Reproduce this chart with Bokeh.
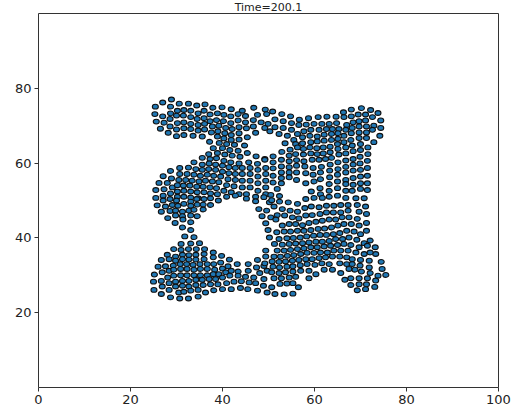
from bokeh.plotting import figure
from bokeh.embed import file_html
from bokeh.resources import INLINE
from bokeh.models import FixedTicker, ColumnDataSource

title_text = "Time=200.1"
x_ticks = [0, 20, 40, 60, 80, 100]
y_ticks = [20, 40, 60, 80]

points = [
 # upper band, left
 28.9,77.0, 27.0,76.2, 25.4,75.1, 28.7,75.1, 30.6,75.9, 32.6,75.9, 34.4,75.4, 36.2,75.7, 37.9,74.8, 39.9,74.9, 41.9,74.4, 44.3,74.0, 46.8,74.8, 49.3,74.3,
 25.3,73.1, 27.0,72.5, 28.7,73.3, 30.2,74.0, 31.6,74.2, 33.1,74.0, 34.7,73.3, 36.0,74.0, 37.3,73.0, 38.9,73.3, 40.3,72.9, 41.8,72.5, 43.4,73.1, 45.0,72.6, 47.6,72.9, 49.6,73.1,
 25.6,71.1, 27.3,70.8, 28.6,71.8, 30.0,72.7, 31.5,72.7, 33.1,72.3, 34.5,71.8, 36.0,72.0, 37.3,71.2, 38.7,71.5, 40.2,71.2, 41.8,70.7, 43.4,71.4, 45.0,70.9, 46.7,71.5, 48.4,70.9,
 26.5,69.2, 28.6,69.8, 30.2,70.7, 31.6,70.9, 33.1,70.5, 34.7,70.2, 36.1,70.5, 37.8,69.8, 39.2,70.0, 40.7,69.4, 42.1,69.1, 43.6,69.6, 45.2,69.3, 46.7,69.8, 49.2,69.4,
 28.2,68.1, 30.0,69.0, 31.6,69.3, 33.1,69.1, 34.7,68.7, 36.1,69.0, 37.6,68.2, 39.0,68.5, 40.5,68.0, 41.9,67.5, 43.6,68.0, 47.2,68.1,
 30.0,67.2, 31.6,67.5, 33.6,67.3, 35.6,67.1, 38.9,67.1, 40.3,66.6, 41.9,66.2, 43.6,66.3, 45.4,66.9,
 37.2,65.7, 39.3,65.4, 40.9,65.1, 42.6,64.9, 44.8,64.7,
 38.0,64.0, 40.0,64.0, 41.6,63.5, 43.4,63.3, 45.4,62.7, 47.3,61.8, 49.2,61.1,
 38.9,62.7, 40.5,62.3, 42.1,62.0, 43.8,61.7, 45.7,60.2, 47.6,59.8, 49.4,58.7, 37.0,62.4,
 35.6,61.4, 37.3,61.1, 38.7,61.3, 40.3,60.6, 41.8,60.2, 43.6,59.9, 33.8,60.2, 35.6,59.6, 37.1,59.9, 38.5,59.6, 40.0,59.3, 41.4,58.9, 42.8,58.7, 44.3,58.7, 46.0,58.7, 47.7,58.2, 49.4,57.1,
 30.7,58.7, 32.6,58.8, 34.2,58.4, 35.6,58.2, 37.0,58.4, 38.5,58.2, 40.0,57.7, 41.4,57.3, 42.8,57.1, 44.3,57.1, 46.0,57.1, 47.7,56.4, 49.4,55.3,
 27.1,56.5, 28.7,57.9, 30.7,57.1, 32.3,57.1, 33.8,56.9, 35.2,56.6, 36.7,56.9, 38.1,56.6, 39.6,56.4, 41.2,55.7, 42.8,55.5, 44.3,55.3, 46.0,55.3, 47.7,54.6, 49.4,53.5,
 26.2,54.7, 28.0,54.7, 28.9,55.9, 30.5,55.5, 32.0,55.5, 33.4,55.3, 34.9,55.1, 36.3,55.3, 37.8,55.1, 39.2,54.9, 40.9,54.1, 42.5,53.8, 44.3,53.5, 46.0,53.5, 47.7,52.6, 49.4,51.7,
 25.5,52.8, 27.3,53.0, 29.1,53.5, 30.2,54.1, 31.5,54.0, 32.9,54.0, 34.4,53.7, 35.8,53.7, 37.3,53.5, 38.7,53.3, 40.3,52.6, 41.9,52.2, 43.6,51.7, 45.2,51.7, 47.2,51.0,
 25.5,50.7, 27.1,51.3, 28.7,51.9, 30.2,52.4, 31.6,52.6, 33.1,52.4, 34.5,52.2, 36.0,52.2, 37.4,51.9, 38.9,51.7, 40.9,51.0, 42.8,51.3, 30.2,51.0, 31.6,51.0, 33.1,50.8, 34.7,50.6, 28.6,50.4,
 # lower-left lobe
 27.1,50.0, 30.0,50.0, 33.1,49.7, 34.4,50.4, 36.0,50.4, 37.4,50.6, 39.1,50.0, 45.2,50.5, 47.2,49.8, 49.0,50.9, 50.2,49.5,
 25.8,48.7, 27.6,48.4, 29.1,48.8, 30.3,48.6, 31.6,49.1, 33.1,48.6, 34.5,48.9, 35.8,48.9, 37.4,48.8,
 26.7,47.0, 28.6,47.2, 29.8,47.3, 31.3,47.0, 32.7,47.3, 33.8,47.5, 35.8,47.6,
 28.1,45.3, 29.8,46.0, 31.3,45.8, 33.1,46.0, 34.5,45.8, 29.7,44.0, 31.4,44.9, 33.1,44.2, 31.3,42.8, 33.1,42.1, 31.8,40.4, 33.8,40.2,
 47.9,47.7, 48.6,45.8, 49.4,43.9, 49.9,42.1, 50.2,40.1,
 31.0,38.4, 33.1,38.5, 35.0,38.6, 29.4,37.0, 31.0,36.8, 32.6,37.0, 34.3,37.0, 36.1,37.0,
 28.0,35.5, 29.8,35.0, 31.3,35.5, 32.7,35.4, 34.2,35.5, 36.0,35.7, 38.0,36.1,
 26.7,34.1, 28.4,34.3, 29.8,33.9, 31.3,34.3, 32.7,34.2, 34.2,34.2, 36.0,34.3, 38.0,34.8, 39.8,35.2,
 26.0,32.3, 27.6,32.4, 29.3,32.6, 30.8,33.0, 32.2,33.0, 33.6,32.8, 35.1,33.0, 36.7,33.0, 38.1,33.0, 39.6,33.4, 41.5,34.2,
 25.2,30.2, 26.9,30.8, 28.4,31.2, 29.4,31.5, 30.9,31.7, 32.3,31.7, 33.8,31.5, 35.2,31.7, 36.7,31.7, 38.3,31.5, 40.0,31.8, 41.2,32.4, 43.2,33.0, 45.6,33.0, 47.6,34.1, 49.4,36.6,
 25.0,28.3, 26.7,28.5, 28.1,29.4, 29.4,29.9, 30.9,30.0, 32.3,30.0, 33.8,30.0, 35.2,30.0, 36.7,30.0, 38.0,30.3, 39.2,30.3, 40.7,30.8, 41.9,31.2, 43.4,31.0, 45.6,31.2, 47.4,32.1, 49.0,32.5,
 25.1,26.1, 26.9,27.0, 28.4,27.9, 29.8,28.3, 31.3,28.5, 32.7,28.5, 34.2,28.8, 35.6,28.8, 37.1,29.0, 38.5,29.0, 40.0,29.4, 41.6,29.9, 43.4,29.9, 45.0,29.6, 46.8,29.4, 48.1,30.6, 49.7,31.2,
 26.7,25.0, 28.4,26.1, 29.8,27.0, 31.3,27.2, 32.7,27.0, 34.2,27.4, 35.8,27.4, 37.4,27.6, 39.0,27.6, 40.9,27.9, 42.5,28.3, 44.1,28.4, 45.8,28.1, 47.2,27.9, 49.0,29.0,
 28.7,24.1, 30.5,25.4, 31.6,25.6, 33.1,25.9, 34.7,26.1, 36.3,25.4, 38.1,26.0, 40.0,26.3, 41.9,26.3, 43.9,26.6, 45.5,26.3, 47.6,25.9, 49.7,25.4,
 30.7,23.8, 32.6,23.8, 34.7,24.3,
 # upper band, right
 50.9,73.8, 52.9,73.1, 54.8,72.5, 56.7,71.6, 58.7,72.0, 60.8,72.3, 62.7,72.4, 64.7,72.4, 66.3,73.6, 68.0,74.3, 70.2,74.7, 72.2,74.2, 73.8,73.4,
 51.4,71.7, 53.2,71.2, 55.0,70.7, 56.6,70.2, 58.2,70.3, 59.9,70.5, 61.6,70.5, 63.2,70.5, 64.8,70.7, 66.4,72.3, 68.0,72.5, 69.5,73.0, 71.1,73.0, 72.6,72.3, 74.4,71.4,
 49.9,70.5, 51.4,69.6, 53.2,69.4, 55.0,68.9, 57.7,68.5, 56.3,67.8, 59.2,68.9, 61.0,68.9, 62.6,69.1, 63.9,69.1, 65.3,69.1, 67.0,70.2, 68.4,70.9, 69.7,71.2, 71.1,71.4, 72.9,70.0, 74.4,69.4,
 50.3,68.5, 52.3,67.8, 54.1,67.3, 57.4,66.9, 55.5,66.2, 59.0,67.3, 60.6,67.1, 62.1,67.6, 63.7,67.8, 65.1,68.0, 66.8,68.9, 68.2,69.4, 69.7,69.8, 71.3,69.8, 72.6,68.9, 74.2,67.3,
 53.6,65.3, 57.4,65.3, 59.2,65.6, 60.6,65.8, 62.1,66.0, 63.7,66.2, 65.1,66.5, 66.4,67.3, 68.0,68.0, 69.7,68.2, 71.3,68.2, 72.9,65.6,
 54.7,63.6, 57.6,63.8, 55.9,65.1, 59.0,64.2, 60.5,64.0, 61.9,64.2, 63.4,64.4, 65.0,65.1, 66.4,65.6, 67.9,66.2, 69.7,66.7, 71.3,66.7, 56.3,64.2,
 52.9,63.0, 55.9,62.4, 57.6,62.3, 59.2,62.6, 60.6,62.4, 61.9,62.6, 63.4,62.9, 65.1,63.8, 66.8,64.2, 68.2,64.7, 70.0,65.1, 71.6,64.2, 54.5,62.0,
 51.0,61.8, 52.8,60.9, 54.5,60.5, 56.1,60.8, 57.7,60.5, 59.5,60.9, 61.0,60.9, 62.4,61.1, 63.7,61.4, 65.3,62.3, 66.8,62.6, 68.4,63.2, 70.0,63.5, 71.6,62.4,
 49.2,60.9, 51.0,60.2, 52.8,59.1, 54.5,58.9, 56.1,59.3, 57.9,59.1, 59.7,58.7, 61.5,59.0, 63.4,59.6, 65.1,60.2, 66.8,60.7, 68.4,61.1, 69.9,61.7, 71.5,60.6,
 51.0,58.6, 52.8,57.5, 54.5,57.5, 56.1,57.5, 58.1,57.3, 59.7,56.9, 61.3,57.5, 63.3,58.0, 65.1,58.4, 66.8,59.0, 68.4,59.6, 69.9,59.9, 71.5,58.7,
 51.0,56.6, 52.8,56.0, 54.5,56.2, 56.1,55.5, 58.1,54.6, 59.9,55.1, 61.3,55.7, 63.3,56.2, 65.0,56.9, 66.8,57.5, 68.4,58.0, 70.0,58.2, 71.5,56.6,
 51.0,54.8, 52.8,54.6, 59.3,52.4, 61.2,53.3, 63.2,54.4, 65.0,55.1, 66.8,55.5, 68.4,56.0, 70.0,56.4, 71.5,54.6,
 51.9,53.1, 61.3,51.7, 63.2,52.6, 65.0,53.3, 66.8,54.4, 68.4,54.2, 70.0,54.6, 71.5,52.8,
 50.5,51.5, 52.4,51.2, 58.1,50.4, 59.9,50.7, 61.7,50.7, 63.2,51.0, 65.0,51.3, 66.8,52.6, 68.2,52.6, 70.0,53.1, 66.8,50.7, 69.0,50.6, 70.8,50.6,
 # lower right
 50.7,50.1, 52.4,49.7, 54.3,49.5, 56.3,49.1, 49.6,47.3, 51.2,48.4, 53.0,47.7, 54.7,47.3, 56.3,47.0, 57.9,48.0, 59.3,48.4, 61.0,48.2, 62.6,48.6, 64.2,48.6, 65.7,48.8, 67.3,48.8, 69.3,48.8, 71.1,48.4,
 50.5,45.5, 51.9,46.1, 53.5,46.0, 55.2,45.5, 56.6,45.2, 58.1,46.0, 59.5,46.1, 61.2,46.4, 62.6,46.8, 64.1,46.8, 65.7,46.8, 67.3,47.3, 69.7,47.0, 71.3,46.4,
 51.6,44.9, 53.0,43.3, 54.5,43.7, 55.9,43.7, 57.4,43.4, 58.8,44.0, 60.3,44.3, 61.7,44.6, 63.2,44.9, 64.6,44.9, 66.0,45.5, 67.5,45.5, 69.3,45.1, 71.3,44.0,
 51.8,41.5, 53.4,41.7, 54.8,41.7, 56.3,41.9, 57.7,41.9, 59.2,42.1, 60.8,42.4, 62.2,42.5, 63.7,42.8, 65.1,43.3, 66.4,43.7, 68.0,43.7, 69.7,43.3, 71.3,41.9,
 52.3,39.7, 54.0,39.9, 55.4,40.0, 56.9,40.1, 58.3,40.4, 59.8,40.6, 61.2,40.8, 62.6,40.8, 64.1,41.0, 65.5,41.3, 67.0,41.9, 68.6,41.7, 70.0,41.0, 72.1,39.3,
 51.3,38.4, 53.0,38.2, 54.5,38.4, 55.9,38.5, 57.4,38.6, 58.8,38.8, 60.3,39.0, 61.7,39.0, 63.2,39.2, 64.6,39.7, 66.1,39.7, 67.5,40.1, 69.2,39.5, 70.8,38.6, 73.2,37.5,
 51.9,36.6, 53.4,36.6, 54.8,36.8, 56.3,37.0, 57.7,37.2, 59.2,37.5, 60.6,37.5, 62.1,37.7, 63.5,37.9, 65.0,38.1, 66.4,38.4, 67.9,38.1, 69.7,37.5, 71.5,37.9, 73.3,35.7,
 49.4,35.0, 51.2,35.0, 52.6,35.0, 54.1,35.2, 55.5,35.4, 57.0,35.7, 58.4,36.0, 59.9,36.0, 61.3,36.1, 62.8,36.1, 64.2,36.6, 65.7,36.6, 67.3,36.6, 69.0,36.1, 70.8,35.7, 72.1,36.1, 74.5,33.6,
 49.2,33.2, 50.8,33.7, 52.3,33.6, 53.7,33.7, 55.2,33.9, 56.6,34.1, 58.1,34.3, 59.5,34.3, 61.0,34.6, 62.4,34.8, 63.9,35.0, 65.5,35.0, 67.0,34.8, 68.2,34.3, 70.0,34.1, 71.9,33.9, 74.7,31.7,
 51.0,32.3, 52.4,32.1, 54.0,32.3, 55.3,32.4, 56.9,32.7, 58.4,33.0, 60.1,32.8, 61.6,33.2, 63.2,33.0, 65.5,33.2, 67.0,33.0, 68.2,33.0, 69.9,32.6, 71.9,32.1, 73.8,29.9,
 50.7,30.8, 52.3,30.6, 53.7,30.8, 55.3,31.0, 57.0,31.2, 58.8,31.2, 62.1,31.5, 63.9,31.5, 65.7,30.6, 67.5,31.7, 68.8,31.5, 70.2,31.0, 72.1,30.6, 75.5,30.1,
 51.2,29.2, 52.8,29.2, 54.5,29.4, 55.9,29.6, 58.8,29.2, 60.3,30.3, 67.9,29.2, 69.7,29.2, 71.5,29.2, 73.3,28.6,
 48.9,27.2, 50.7,26.8, 52.5,27.7, 54.0,27.8, 55.3,27.9, 56.5,26.8, 66.6,28.8, 67.9,27.4, 69.7,27.6, 71.3,27.6, 73.1,26.9,
 51.4,25.0, 53.4,24.9, 55.3,25.1, 69.3,26.0, 71.1,26.3,
]
xs = points[0::2]
ys = points[1::2]

p = figure(width=513, height=412, output_backend="svg", toolbar_location=None,
           x_range=(0, 100), y_range=(0, 100), title=title_text,
           min_border_left=38, min_border_right=15, min_border_top=13, min_border_bottom=25,
           frame_width=460, frame_height=374, margin=(-2, 0, 0, 0))
p.title.align = "center"
p.title.text_font = "DejaVu Sans"
p.title.text_font_size = "11px"
p.title.text_font_style = "normal"
p.title.text_color = "#222222"
p.title.standoff = 0
p.grid.visible = False
p.outline_line_color = "#333333"
p.outline_line_width = 1

p.xaxis.ticker = FixedTicker(ticks=x_ticks)
p.yaxis.ticker = FixedTicker(ticks=y_ticks)
for ax in (p.xaxis[0], p.yaxis[0]):
    ax.axis_line_color = None
    ax.major_tick_line_color = "#333333"
    ax.major_tick_line_width = 1
    ax.major_tick_out = 4
    ax.major_tick_in = 0
    ax.minor_tick_line_color = None
    ax.major_label_text_font = "DejaVu Sans"
    ax.major_label_text_font_size = "13px"
    ax.major_label_text_color = "#222222"
    ax.major_label_standoff = 3

src = ColumnDataSource(data=dict(x=xs, y=ys))
p.ellipse("x", "y", width=6, height=4.8, width_units="screen", height_units="screen",
          source=src, fill_color="#1f77b4", line_color="#111111", line_width=1.1)

open("out.html", "w").write(file_html(p, INLINE))
